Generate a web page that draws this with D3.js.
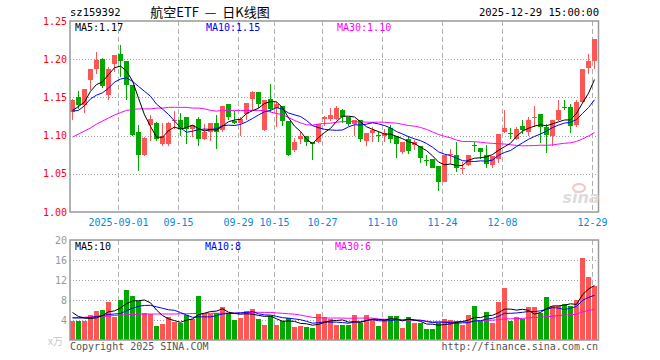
<!DOCTYPE html>
<html><head><meta charset="utf-8">
<script src="https://cdn.jsdelivr.net/npm/d3@7"></script>
<style>
body{margin:0;background:#fff}
svg{display:block}
text{font-family:"DejaVu Sans Mono",monospace;font-size:10px}
</style>
</head><body>
<svg id="c" width="660" height="360"></svg>
<script>
// ---------- DATA ----------
const dates = [
"08-20","08-21","08-22","08-25","08-26","08-27","08-28","08-29",
"09-01","09-02","09-03","09-04","09-05","09-08","09-09","09-10","09-11","09-12",
"09-15","09-16","09-17","09-18","09-19","09-22","09-23","09-24","09-25","09-26",
"09-29","09-30","10-09","10-10","10-13","10-14","10-15","10-16","10-17",
"10-20","10-21","10-22","10-23","10-24","10-27","10-28","10-29","10-30","10-31",
"11-03","11-04","11-05","11-06","11-07","11-10","11-11","11-12","11-13","11-14",
"11-17","11-18","11-19","11-20","11-21","11-24","11-25","11-26","11-27","11-28",
"12-01","12-02","12-03","12-04","12-05","12-08","12-09","12-10","12-11","12-12",
"12-15","12-16","12-17","12-18","12-19","12-22","12-23","12-24","12-25","12-26","12-29"];

const open = [
1.131,1.150,1.140,1.173,1.187,1.200,1.153,1.194,1.207,1.198,
1.166,1.105,1.074,1.114,1.117,1.089,1.089,1.119,1.120,1.125,
1.109,1.122,1.095,1.105,1.117,1.107,1.141,1.119,1.116,1.128,
1.148,1.157,1.107,1.148,1.136,1.139,1.119,1.081,1.095,1.100,
1.091,1.091,1.122,1.122,1.122,1.133,1.124,1.115,1.120,1.093,
1.104,1.101,1.100,1.110,1.100,1.079,1.095,1.088,1.087,1.068,
1.069,1.060,1.039,1.075,1.075,1.057,1.062,1.088,1.084,1.074,
1.062,1.070,1.105,1.103,1.095,1.112,1.105,1.123,1.128,1.111,
1.100,1.120,1.137,1.137,1.114,1.144,1.188,1.198];
const high = [
1.148,1.158,1.161,1.187,1.209,1.201,1.190,1.206,1.218,1.198,
1.166,1.114,1.098,1.127,1.118,1.117,1.118,1.132,1.130,1.125,
1.114,1.125,1.115,1.117,1.127,1.139,1.141,1.132,1.125,1.143,
1.158,1.157,1.147,1.167,1.144,1.139,1.119,1.097,1.105,1.100,
1.091,1.115,1.126,1.136,1.139,1.135,1.124,1.120,1.121,1.104,
1.111,1.106,1.108,1.114,1.100,1.092,1.100,1.094,1.087,1.074,
1.069,1.060,1.074,1.083,1.091,1.065,1.074,1.091,1.084,1.088,
1.073,1.102,1.133,1.110,1.111,1.121,1.124,1.139,1.128,1.115,
1.120,1.146,1.147,1.141,1.147,1.187,1.207,1.226];
const low = [
1.120,1.135,1.130,1.160,1.181,1.162,1.147,1.183,1.177,1.147,
1.100,1.054,1.073,1.093,1.093,1.087,1.087,1.108,1.100,1.089,
1.098,1.086,1.094,1.093,1.082,1.105,1.120,1.115,1.100,1.120,
1.133,1.136,1.106,1.131,1.111,1.113,1.073,1.079,1.089,1.086,
1.068,1.090,1.113,1.119,1.120,1.117,1.113,1.100,1.091,1.086,
1.092,1.091,1.091,1.090,1.071,1.076,1.076,1.081,1.064,1.060,
1.057,1.027,1.039,1.063,1.052,1.050,1.060,1.078,1.070,1.057,
1.058,1.064,1.104,1.096,1.094,1.102,1.099,1.111,1.090,1.077,
1.087,1.119,1.133,1.103,1.111,1.143,1.181,1.187];
const close = [
1.147,1.140,1.161,1.187,1.199,1.165,1.187,1.206,1.198,1.166,
1.101,1.074,1.097,1.122,1.096,1.100,1.117,1.121,1.108,1.108,
1.114,1.095,1.105,1.117,1.105,1.139,1.125,1.116,1.122,1.143,
1.157,1.141,1.147,1.135,1.141,1.119,1.075,1.092,1.100,1.091,
1.089,1.115,1.125,1.127,1.136,1.124,1.115,1.120,1.095,1.104,
1.107,1.100,1.104,1.095,1.089,1.092,1.080,1.092,1.071,1.067,
1.058,1.039,1.074,1.076,1.057,1.058,1.074,1.087,1.079,1.063,
1.073,1.102,1.110,1.102,1.108,1.107,1.121,1.124,1.111,1.101,
1.120,1.134,1.136,1.112,1.144,1.187,1.198,1.226];
const volume = [
3.8,3.8,3.8,5.0,5.8,6.0,7.6,4.7,8.0,10.0,
8.8,7.8,5.4,5.2,2.8,3.2,4.6,3.6,3.5,5.0,
4.3,8.8,5.2,5.2,5.4,6.6,5.4,4.0,4.4,5.8,
6.2,4.2,3.0,4.8,3.0,3.8,4.4,2.6,2.8,2.6,
2.4,5.2,4.6,4.3,3.0,3.0,3.0,5.0,3.5,5.0,
4.3,2.8,4.3,4.8,4.8,2.4,4.6,3.4,3.4,2.2,
2.2,3.5,4.2,4.0,3.8,3.0,5.0,6.8,3.8,5.6,
3.5,7.6,10.4,3.8,4.6,4.3,6.6,6.6,5.4,8.6,
6.8,6.8,7.2,6.8,8.0,16.4,12.6,10.8];

const ma5Head  = [1.133,1.138,1.144,1.158];
const ma10Head = [1.132,1.133,1.139,1.148,1.153,1.156,1.162,1.170,1.174];
const ma30Head = [1.098,1.102,1.106,1.110,1.115,1.119,1.123,1.127,1.130,1.133,
                  1.134,1.135,1.135,1.135,1.136,1.136,1.137,1.137,1.137,1.137,
                  1.136,1.136,1.135,1.133,1.132,1.133,1.133,1.133,1.133];
const vma5Head  = [5.5,4.7,4.4,4.3];
const vma10Head = [4.4,4.4,4.4,4.5,4.7,4.9,5.1,5.2,5.3];
const vma30Head = [4.5,4.5,4.55,4.6,4.65,4.7,4.8,4.9,5.0,5.05,
                   5.1,5.15,5.2,5.2,5.2,5.2,5.2,5.2,5.25,5.25,
                   5.3,5.3,5.3,5.35,5.35,5.35,5.4,5.4,5.4];

const priceTicks = [1.00,1.05,1.10,1.15,1.20,1.25];
const volTicks = [4,8,12,16,20];
const dateTicks = ["09-01","09-15","09-29","10-15","10-27","11-10","11-24","12-08","12-29"];
const dateTickLabels = ["2025-09-01","09-15","09-29","10-15","10-27","11-10","11-24","12-08","12-29"];

const symbol = "sz159392";
const title = "航空ETF — 日K线图";
const stamp = "2025-12-29 15:00:00";

// ---------- HELPERS ----------
function movingAvg(arr, n, head){
  return arr.map((v,i)=> i < n-1 ? head[i] : d3.mean(arr.slice(i-n+1, i+1)));
}
const ma5 = movingAvg(close,5,ma5Head), ma10 = movingAvg(close,10,ma10Head), ma30 = movingAvg(close,30,ma30Head);
const vma5 = movingAvg(volume,5,vma5Head), vma10 = movingAvg(volume,10,vma10Head), vma30 = movingAvg(volume,30,vma30Head);

const RED = "#ff5555", GREEN = "#00a800";
const svg = d3.select("#c");

const L = 70, R = 598.5, T = 21, B = 212, VT = 240, VB = 340;
const x = d3.scaleBand().domain(dates).range([69.5, 597.5]).paddingInner(1/6).paddingOuter(1/12);
const bw = x.bandwidth();
const cx = d => x(d) + bw/2;
const y = d3.scaleLinear().domain([1.00,1.25]).range([B, T]);
const yv = d3.scaleLinear().domain([0,20]).range([VB, VT]);

// ---------- HEADER ----------
svg.append("text").attr("x",70).attr("y",16).attr("fill","#000").style("font-size","10.5px").text(symbol);
svg.append("text").attr("x",210).attr("y",17).attr("text-anchor","middle").attr("fill","#000")
   .style("font-family","'Noto Sans CJK SC',sans-serif").style("font-size","13px")
   .style("white-space","pre").text(title.replace(" — ","  —  "));
svg.append("text").attr("x",599).attr("y",16).attr("text-anchor","end").attr("fill","#000").style("font-size","10.5px").text(stamp);

// ---------- GRIDS ----------
function grids(top, bottom, yScale, ticks){
  const g = svg.append("g").attr("shape-rendering","crispEdges");
  g.selectAll(".h").data(ticks).join("line")
    .attr("x1",L).attr("x2",R).attr("y1",d=>Math.round(yScale(d))+0.5).attr("y2",d=>Math.round(yScale(d))+0.5)
    .attr("stroke","#a0a0a0").attr("stroke-dasharray","1,2");
  g.selectAll(".v").data(dateTicks).join("line")
    .attr("x1",d=>x(d)+0.5).attr("x2",d=>x(d)+0.5).attr("y1",top).attr("y2",bottom)
    .attr("stroke","#b0b0b0").attr("stroke-dasharray","5,3");
}
grids(T, B, y, priceTicks.filter(t=>t>1.0 && t<1.25));
grids(VT, VB, yv, volTicks.filter(t=>t<20));

// ---------- CANDLES ----------
const cg = svg.append("g").attr("shape-rendering","crispEdges");
dates.forEach((d,i)=>{
  const up = close[i] >= open[i];
  const col = up ? RED : GREEN;
  cg.append("line").attr("x1",cx(d)).attr("x2",cx(d))
    .attr("y1",y(high[i])).attr("y2",y(low[i])).attr("stroke",col).attr("stroke-width",1);
  const top = y(Math.max(open[i],close[i])), bot = y(Math.min(open[i],close[i]));
  cg.append("rect").attr("x",x(d)).attr("width",bw)
    .attr("y",top).attr("height",Math.max(1,bot-top)).attr("fill",col);
});

// ---------- VOLUME BARS ----------
const vg = svg.append("g").attr("shape-rendering","crispEdges");
vg.selectAll("rect").data(dates).join("rect")
  .attr("x",d=>x(d)).attr("width",bw)
  .attr("y",(d,i)=>yv(volume[i])).attr("height",(d,i)=>VB-yv(volume[i]))
  .attr("fill",(d,i)=> close[i]>=open[i] ? RED : GREEN);

// ---------- MA LINES ----------
function maLine(vals, sc, col){
  const ln = d3.line().x((v,i)=>cx(dates[i])).y(v=>sc(v));
  svg.append("path").attr("d",ln(vals)).attr("fill","none").attr("stroke",col).attr("stroke-width",1);
}
maLine(ma30, y, "#ff00ff"); maLine(ma10, y, "#0000ff"); maLine(ma5, y, "#000");
maLine(vma30, yv, "#ff00ff"); maLine(vma10, yv, "#0000ff"); maLine(vma5, yv, "#000");

// ---------- FRAMES ----------
svg.append("rect").attr("x",L).attr("y",T).attr("width",R-L).attr("height",B-T)
   .attr("fill","none").attr("stroke","#999").attr("stroke-width",1.5);
svg.append("rect").attr("x",L).attr("y",VT).attr("width",R-L).attr("height",VB-VT)
   .attr("fill","none").attr("stroke","#999").attr("stroke-width",1.5);

// ---------- AXIS LABELS ----------
svg.append("g").selectAll("text").data(priceTicks).join("text")
  .attr("x",67).attr("y",d=>y(d)+3.5).attr("text-anchor","end").attr("fill","#ff0000")
  .text(d=>d.toFixed(2));
svg.append("g").selectAll("text").data(volTicks).join("text")
  .attr("x",67).attr("y",d=>yv(d)+3.5).attr("text-anchor","end").attr("fill","#999")
  .text(d=>d);
svg.append("text").attr("x",63).attr("y",345).attr("text-anchor","end").attr("fill","#c8c8c8")
  .style("font-family","'Noto Sans CJK SC',sans-serif").style("font-size","10px").text("x万");
svg.append("g").selectAll("text").data(dateTicks).join("text")
  .attr("x",d=>x(d)+0.5).attr("y",226).attr("text-anchor","middle").attr("fill","#0a88d6")
  .text((d,i)=>dateTickLabels[i]);

// ---------- MA LEGENDS ----------
const last = a => a[a.length-1];
svg.append("text").attr("x",75).attr("y",31).attr("fill","#000").text("MA5:"+last(ma5).toFixed(2));
svg.append("text").attr("x",206).attr("y",31).attr("fill","#0000ff").text("MA10:"+last(ma10).toFixed(2));
svg.append("text").attr("x",337).attr("y",31).attr("fill","#ff00ff").text("MA30:"+last(ma30).toFixed(2));
svg.append("text").attr("x",75).attr("y",250).attr("fill","#000").text("MA5:"+Math.floor(last(vma5)));
svg.append("text").attr("x",205).attr("y",250).attr("fill","#0000ff").text("MA10:"+Math.floor(last(vma10)));
svg.append("text").attr("x",335).attr("y",250).attr("fill","#ff00ff").text("MA30:"+Math.floor(last(vma30)));

// ---------- FOOTER / WATERMARK ----------
svg.append("text").attr("x",70).attr("y",350).attr("fill","#555").text("Copyright 2025 SINA.COM");
svg.append("text").attr("x",598).attr("y",350).attr("text-anchor","end").attr("fill","#555").text("http://finance.sina.com.cn");
svg.append("ellipse").attr("cx",579).attr("cy",188).attr("rx",6).attr("ry",4)
  .attr("fill","none").attr("stroke","#f2c6c6").attr("stroke-width",2);
svg.append("text").attr("x",581).attr("y",203).attr("text-anchor","middle").attr("fill","#dcdcdc")
  .style("font-family","'DejaVu Sans',sans-serif").style("font-size","16px")
  .style("font-style","italic").style("font-weight","bold").text("sina");
</script>
</body></html>
